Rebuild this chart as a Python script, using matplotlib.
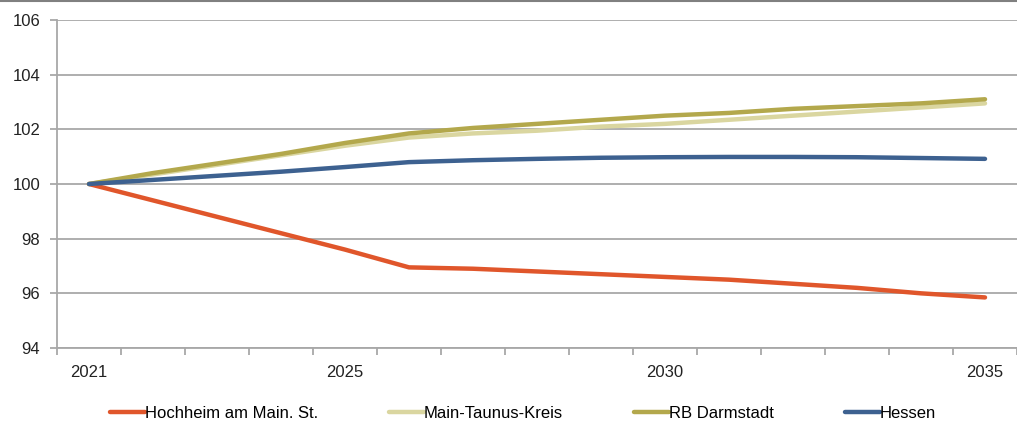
import matplotlib.pyplot as plt
from matplotlib.lines import Line2D

plt.rcParams['font.family'] = ['Liberation Sans Narrow', 'Liberation Sans', 'DejaVu Sans']

years = list(range(2021, 2036))
hochheim = [100, 99.4, 98.8, 98.2, 97.6, 96.95, 96.9, 96.8, 96.7, 96.6,
            96.5, 96.35, 96.2, 96.0, 95.85]
main_taunus = [100, 100.35, 100.7, 101.05, 101.4, 101.7, 101.85, 101.95, 102.1, 102.2,
               102.35, 102.5, 102.65, 102.8, 102.95]
rb_darmstadt = [100, 100.4, 100.75, 101.1, 101.5, 101.85, 102.05, 102.2, 102.35, 102.5,
                102.6, 102.75, 102.85, 102.95, 103.1]
hessen = [100, 100.15, 100.3, 100.45, 100.62, 100.8, 100.87, 100.92, 100.96, 100.98,
          100.99, 100.99, 100.98, 100.95, 100.92]

labels = ['Hochheim am Main. St.', 'Main-Taunus-Kreis', 'RB Darmstadt', 'Hessen']
colors = ['#E0562B', '#DAD6A0', '#B3A84C', '#3D6190']
year_labels = [2021, 2025, 2030, 2035]

fig = plt.figure(figsize=(10.17, 4.26), dpi=100)
ax = fig.add_axes([57 / 1017, 1 - 348 / 426, 1 - 57 / 1017, (348 - 20) / 426])

x = list(range(len(years)))
for series, lab, col in zip([hochheim, main_taunus, rb_darmstadt, hessen], labels, colors):
    ax.plot(x, series, color=col, lw=3.2, label=lab, solid_joinstyle='round',
            solid_capstyle='round')

grid_col = '#A8A8A8'
ax.set_ylim(94, 106)
ax.set_yticks(range(94, 107, 2))
ax.yaxis.grid(True, color=grid_col, lw=1.3)
ax.set_axisbelow(True)

# categories are centred between the tick marks, the last one runs off the right edge
ax.set_xlim(-0.5, 14.38)
ax.set_xticks([years.index(y) for y in year_labels])
ax.set_xticklabels([str(y) for y in year_labels])
ax.set_xticks([k - 0.5 for k in range(len(years) + 1)], minor=True)
ax.tick_params(axis='x', which='major', length=0, pad=12, labelsize=12, colors='#222222')
ax.tick_params(axis='x', which='minor', length=5, width=1.3, color=grid_col, direction='out')
ax.tick_params(axis='y', length=5, width=1.3, color=grid_col, pad=7, labelsize=12,
               labelcolor='#222222')

for side in ['top', 'right']:
    ax.spines[side].set_visible(False)
for side in ['left', 'bottom']:
    ax.spines[side].set_color(grid_col)
    ax.spines[side].set_linewidth(1.3)

# thin frame line along the top of the image
fig.add_artist(Line2D([0, 1], [0.998, 0.998], color='#808080', lw=1.5, transform=fig.transFigure))

fig.legend(loc='center left', bbox_to_anchor=(110 / 1017, 1 - 413 / 426), ncol=4,
           frameon=False, fontsize=12, handlelength=2.1, handletextpad=0.0,
           columnspacing=4.25, borderaxespad=0, borderpad=0)

plt.savefig('out.png', dpi=100)
